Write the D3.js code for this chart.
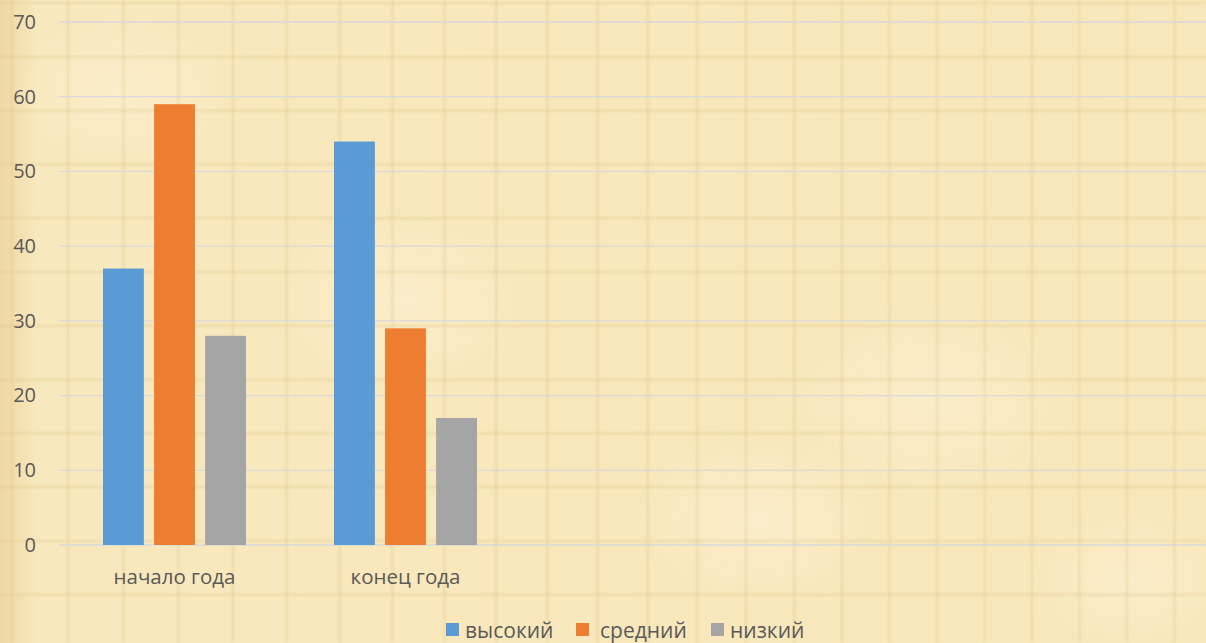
<!DOCTYPE html>
<html><head><meta charset="utf-8">
<script src="https://cdn.jsdelivr.net/npm/d3@7/dist/d3.min.js"></script>
<style>
html,body{margin:0;padding:0;background:#f7e6b9;}
svg{display:block;}
text{font-family:"Open Sans",sans-serif;fill:#595959;}
</style></head>
<body>
<svg id="c" width="1206" height="643"></svg>
<script>
const categories = ["начало года", "конец года"];
const seriesNames = ["высокий", "средний", "низкий"];
const seriesColors = ["#5b9bd5", "#ed7d31", "#a5a5a5"];
const valuesHigh = [37, 54];
const valuesMid = [59, 29];
const valuesLow = [28, 17];
const yTicks = [0, 10, 20, 30, 40, 50, 60, 70];

const seriesValues = [valuesHigh, valuesMid, valuesLow];
const W = 1206, H = 643;
const svg = d3.select("#c");
const defs = svg.append("defs");

// parchment background
const bg = defs.append("linearGradient").attr("id","bgL").attr("x1","0").attr("x2","1").attr("y1","0").attr("y2","0");
bg.append("stop").attr("offset","0").attr("stop-color","#efd7a4");
bg.append("stop").attr("offset","0.03").attr("stop-color","#f8e8bd");
bg.append("stop").attr("offset","1").attr("stop-color","#f8e7ba");
svg.append("rect").attr("width",W).attr("height",H).attr("fill","url(#bgL)");
const rg = defs.append("radialGradient").attr("id","spot");
rg.append("stop").attr("offset","0").attr("stop-color","#fcefd0").attr("stop-opacity",0.7);
rg.append("stop").attr("offset","1").attr("stop-color","#fcefd0").attr("stop-opacity",0);
[[930,400,150],[760,520,130],[120,90,110],[1130,580,110],[400,300,130]].forEach(s=>{
  svg.append("ellipse").attr("cx",s[0]).attr("cy",s[1]).attr("rx",s[2]).attr("ry",s[2]*0.7).attr("fill","url(#spot)");
});
defs.append("filter").attr("id","bl").append("feGaussianBlur").attr("stdDeviation",0.8);
const paper = svg.append("g").attr("filter","url(#bl)").attr("stroke","#d6b878").attr("stroke-opacity",0.3).attr("stroke-width",2.2);
let vx = 12, sp = 56;
while (vx < W + 10) { paper.append("line").attr("x1",vx).attr("x2",vx).attr("y1",0).attr("y2",H); vx += sp; sp = Math.max(47.5, sp - 0.55); }
for (let hy = 3; hy < H; hy += 53.8) paper.append("line").attr("x1",0).attr("x2",W).attr("y1",hy).attr("y2",hy);

// scales
const plotLeft = 59, plotRight = 1215;
const y = d3.scaleLinear().domain([0, 70]).range([545, 22]);
const x0 = d3.scaleBand().domain(categories).range([plotLeft, plotLeft + 462]).paddingInner(0.381).paddingOuter(0.1905);
const x1 = d3.scaleBand().domain(seriesNames).range([0, x0.bandwidth()]).paddingInner(0.2);

// gridlines
svg.append("g").selectAll("line").data(yTicks).join("line")
  .attr("x1", plotLeft).attr("x2", plotRight)
  .attr("y1", d => y(d)).attr("y2", d => y(d))
  .attr("stroke", "#d9d9d9").attr("stroke-width", 1.3);

// y axis labels
const yAxis = d3.axisLeft(y).tickValues(yTicks).tickSize(0).tickPadding(0);
const ya = svg.append("g").attr("transform", "translate(36,0)").call(yAxis);
ya.select(".domain").remove();
ya.selectAll("text").style("font-size","20px").attr("fill","#595959").attr("font-family","Open Sans");

// bars
const groups = svg.append("g").selectAll("g").data(categories).join("g")
  .attr("transform", d => `translate(${x0(d)},0)`);
groups.selectAll("rect").data((c, ci) => seriesNames.map((s, si) => ({s, si, v: seriesValues[si][ci]})))
  .join("rect")
  .attr("x", d => x1(d.s)).attr("width", x1.bandwidth())
  .attr("y", d => y(d.v)).attr("height", d => y(0) - y(d.v))
  .attr("fill", d => seriesColors[d.si]);

// x axis labels
const xAxis = d3.axisBottom(x0).tickSize(0).tickPadding(0);
const xa = svg.append("g").attr("transform", "translate(0,569.5)").call(xAxis);
xa.select(".domain").remove();
xa.selectAll("text").style("font-size","20.5px").attr("fill","#595959").attr("font-family","Open Sans");

// legend
const legendX = [446, 576, 711];
const lg = svg.append("g");
seriesNames.forEach((s, i) => {
  lg.append("rect").attr("x", legendX[i]).attr("y", 623).attr("width", 13).attr("height", 13).attr("fill", seriesColors[i]);
  lg.append("text").attr("x", legendX[i] + (i === 1 ? 24 : 19)).attr("y", 637.5).style("font-size","21px").text(s);
});
</script>
</body></html>
